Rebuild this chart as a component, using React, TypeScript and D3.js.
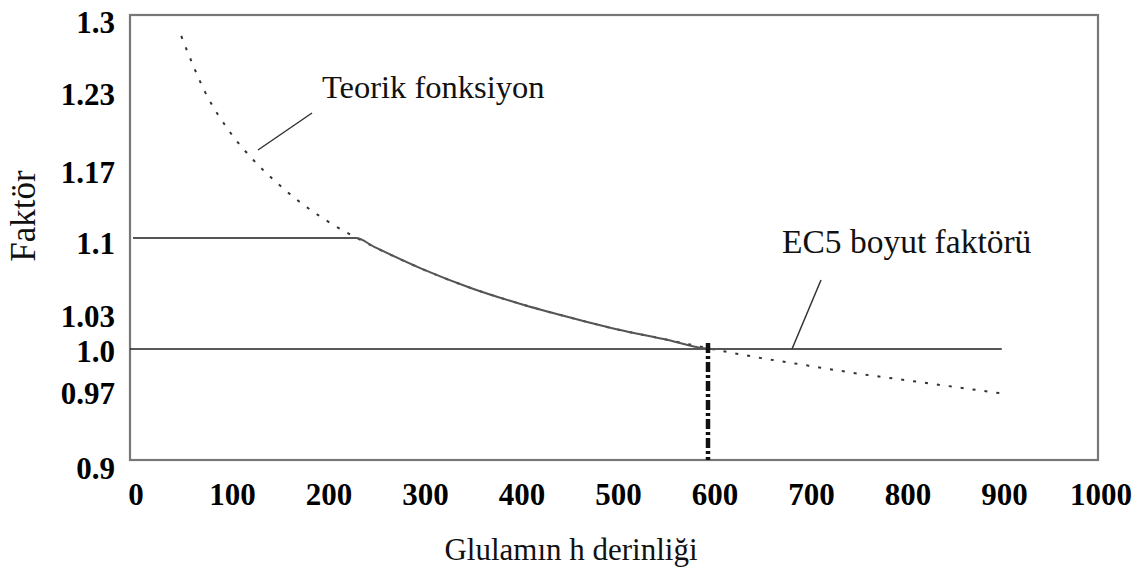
import React from "react";
import * as d3 from "d3";

// Data
const theoH = [50, 75, 100, 125, 150, 175, 200, 250, 300, 350, 400, 450, 500, 550, 600, 650, 700, 750, 800, 850, 900];
const theoK = [1.282, 1.231, 1.196, 1.17, 1.149, 1.131, 1.116, 1.092, 1.072, 1.055, 1.041, 1.029, 1.018, 1.009, 1.0, 0.992, 0.985, 0.978, 0.972, 0.966, 0.96];

const ec5H = [0, 231, 250, 300, 350, 400, 450, 500, 550, 600, 900];
const ec5K = [1.1, 1.1, 1.092, 1.072, 1.055, 1.041, 1.029, 1.018, 1.009, 1.0, 1.0];

const xTicks = [0, 100, 200, 300, 400, 500, 600, 700, 800, 900, 1000];
const yTicks = [1.3, 1.23, 1.17, 1.1, 1.03, 1.0, 0.97, 0.9];
const yTickLabels = ["1.3", "1.23", "1.17", "1.1", "1.03", "1.0", "0.97", "0.9"];

const refH = 600;
const refK = 1.0;

const labelTheo = "Teorik fonksiyon";
const labelEc5 = "EC5 boyut faktörü";
const xTitle = "Glulamın h derinliği";
const yTitle = "Faktör";

// layout (not data)
const W = 1142;
const H = 574;
const frame = { left: 130, top: 15, right: 1098, bottom: 460 };
const yNudge: Record<string, number> = { "1.3": 6, "1.23": 0, "1.17": 12, "1.1": 5, "1.03": 0, "1.0": 2, "0.97": 11, "0.9": 8 };

export default function App() {
  const x = d3.scaleLinear().domain([0, 1000]).range([133, 1098]);
  const y = d3.scaleLinear().domain([0.9, 1.3]).range([460, 16]);

  const theoPts: [number, number][] = theoH.map((h, i) => [h, theoK[i]]);
  const ec5Pts: [number, number][] = ec5H.map((h, i) => [h, ec5K[i]]);

  const line = d3
    .line<[number, number]>()
    .x((d) => x(d[0]))
    .y((d) => y(d[1]))
    .curve(d3.curveMonotoneX);

  const serif = "'Liberation Serif', 'Times New Roman', serif";

  return (
    <svg width={W} height={H} style={{ position: "absolute", left: 0, top: 0, background: "#fff" }} fontFamily={serif}>
      <rect x={0} y={0} width={W} height={H} fill="#fff" />
      {/* frame */}
      <rect
        x={frame.left}
        y={frame.top}
        width={frame.right - frame.left}
        height={frame.bottom - frame.top}
        fill="none"
        stroke="#777"
        strokeWidth={2.2}
      />
      {/* reference line at k = 1.0 */}
      <line x1={frame.left} x2={x(900)} y1={y(refK)} y2={y(refK)} stroke="#222" strokeWidth={1.6} />
      {/* theoretical dotted */}
      <path d={line(theoPts) || ""} fill="none" stroke="#333" strokeWidth={2} strokeDasharray="3,9" />
      {/* EC5 factor */}
      <path d={line(ec5Pts) || ""} fill="none" stroke="#555" strokeWidth={2} />
      {/* vertical dash-dot at h = 600 */}
      <line
        x1={x(refH) - 4}
        x2={x(refH) - 4}
        y1={y(refK) - 6}
        y2={frame.bottom}
        stroke="#111"
        strokeWidth={4.5}
        strokeDasharray="10,3,3,3"
      />
      {/* annotation leader lines */}
      <line x1={258} y1={150} x2={312} y2={113} stroke="#333" strokeWidth={1.5} />
      <line x1={792} y1={349} x2={821} y2={280} stroke="#333" strokeWidth={1.5} />
      <text x={322} y={98} fontSize={32.5} fill="#111">
        {labelTheo}
      </text>
      <text x={782} y={253} fontSize={33.5} fill="#111">
        {labelEc5}
      </text>
      {/* x tick labels */}
      {xTicks.map((t) => (
        <text key={t} x={x(t) + 3} y={505} fontSize={31} fontWeight="bold" textAnchor="middle" fill="#000">
          {t}
        </text>
      ))}
      {/* y tick labels */}
      {yTicks.map((t, i) => (
        <text
          key={t}
          x={115}
          y={y(t) + 11 + yNudge[yTickLabels[i]]}
          fontSize={31}
          fontWeight="bold"
          textAnchor="end"
          fill="#000"
        >
          {yTickLabels[i]}
        </text>
      ))}
      {/* axis titles */}
      <text x={571} y={560} fontSize={31} textAnchor="middle" fill="#111">
        {xTitle}
      </text>
      <text transform="translate(35,216) rotate(-90)" fontSize={35} textAnchor="middle" fill="#111">
        {yTitle}
      </text>
    </svg>
  );
}
